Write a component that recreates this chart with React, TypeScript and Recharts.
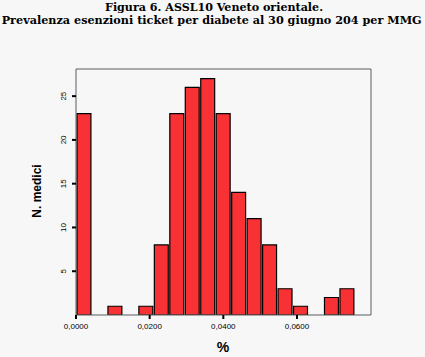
import { BarChart, Bar, XAxis, YAxis, Label } from "recharts";

// histogram bins (start of each bin, in the axis units) and number of GPs in each
const binStart = [
    0, 0.0042, 0.0084, 0.0126, 0.0168, 0.021, 0.0252, 0.0294, 0.0336,
    0.0378, 0.042, 0.0462, 0.0504, 0.0546, 0.0588, 0.063, 0.0672, 0.0714,
];
const counts = [23, 0, 1, 0, 1, 8, 23, 26, 27, 23, 14, 11, 8, 3, 1, 0, 2, 3];
const binWidth = 0.0042;
const xMax = 0.0801;
const yMax = 28.1;
const xTicks = [0, 0.02, 0.04, 0.06];
const yTicks = [5, 10, 15, 20, 25];
const titleLines = [
    "Figura 6. ASSL10 Veneto orientale.",
    "Prevalenza esenzioni ticket per diabete al 30 giugno 204 per MMG",
];

const W = 425;
const H = 357;
const margin = { top: 68, right: 53, bottom: 0, left: 0 };
const yAxisWidth = 76;
const xAxisHeight = 42;
const plotWidth = W - margin.left - margin.right - yAxisWidth - 1;

const tickFont = "'Liberation Sans', Arial, sans-serif";
const borderColor = "#5c5c5c";

const YTick = (props: any) => {
    const { x, y, payload } = props;
    const bx = x - 2;
    return (
        <text
            x={bx}
            y={y}
            transform={`rotate(-90 ${bx} ${y})`}
            textAnchor="middle"
            fontFamily={tickFont}
            fontSize={8}
            fill="#000"
        >
            {payload.value}
        </text>
    );
};

export default function App() {
    const data = binStart.map((s, i) => ({ mid: s + binWidth / 2, count: counts[i] }));
    const barSize = (plotWidth * binWidth) / xMax;

    return (
        <div style={{ position: "absolute", left: 0, top: 0, width: W, height: H, background: "#f7f7f7" }}>
            <svg width={W} height={40} style={{ position: "absolute", left: 0, top: 0 }}>
                <text
                    x={214}
                    y={11}
                    textAnchor="middle"
                    fontFamily="'DejaVu Serif', serif"
                    fontWeight="bold"
                    fontSize={11}
                    textLength={218}
                    lengthAdjust="spacingAndGlyphs"
                    fill="#000"
                >
                    {titleLines[0]}
                </text>
                <text
                    x={211.7}
                    y={24}
                    textAnchor="middle"
                    fontFamily="'DejaVu Serif', serif"
                    fontWeight="bold"
                    fontSize={11}
                    textLength={420}
                    lengthAdjust="spacingAndGlyphs"
                    fill="#000"
                >
                    {titleLines[1]}
                </text>
            </svg>
            <div style={{ position: "absolute", left: 0, top: 0 }}>
                <BarChart width={W} height={H} data={data} margin={margin} barCategoryGap={0}>
                    <XAxis
                        dataKey="mid"
                        type="number"
                        domain={[0, xMax]}
                        ticks={xTicks}
                        allowDataOverflow
                        height={xAxisHeight}
                        axisLine={{ stroke: borderColor, strokeWidth: 1 }}
                        tickLine={{ stroke: "#000", strokeWidth: 2 }}
                        tickSize={4}
                        tickMargin={4}
                        tick={{ fontFamily: tickFont, fontSize: 8, fill: "#000" }}
                        tickFormatter={(v: number) => v.toFixed(4).replace(".", ",")}
                    >
                        <Label
                            content={() => (
                                <text
                                    x={223}
                                    y={352}
                                    textAnchor="middle"
                                    fontFamily={tickFont}
                                    fontWeight="bold"
                                    fontSize={14}
                                    fill="#000"
                                >
                                    %
                                </text>
                            )}
                        />
                    </XAxis>
                    <XAxis
                        xAxisId="top"
                        orientation="top"
                        dataKey="mid"
                        type="number"
                        domain={[0, xMax]}
                        height={1}
                        ticks={xTicks}
                        tick={false}
                        tickLine={false}
                        axisLine={{ stroke: borderColor, strokeWidth: 1 }}
                    />
                    <YAxis
                        type="number"
                        domain={[0, yMax]}
                        ticks={yTicks}
                        allowDataOverflow
                        width={yAxisWidth}
                        axisLine={{ stroke: borderColor, strokeWidth: 1 }}
                        tickLine={{ stroke: "#000", strokeWidth: 2 }}
                        tickSize={4}
                        tickMargin={4}
                        tick={<YTick />}
                    >
                        <Label
                            content={() => (
                                <text
                                    x={41}
                                    y={191}
                                    transform="rotate(-90 41 191)"
                                    textAnchor="middle"
                                    fontFamily={tickFont}
                                    fontWeight="bold"
                                    fontSize={12}
                                    fill="#000"
                                >
                                    N. medici
                                </text>
                            )}
                        />
                    </YAxis>
                    <YAxis
                        yAxisId="right"
                        orientation="right"
                        type="number"
                        domain={[0, yMax]}
                        ticks={yTicks}
                        width={1}
                        tick={false}
                        tickLine={false}
                        axisLine={{ stroke: borderColor, strokeWidth: 1 }}
                    />
                    <Bar
                        dataKey="count"
                        fill="#f83234"
                        stroke="#000"
                        strokeWidth={1.2}
                        barSize={barSize}
                        isAnimationActive={false}
                    />
                </BarChart>
            </div>
        </div>
    );
}
